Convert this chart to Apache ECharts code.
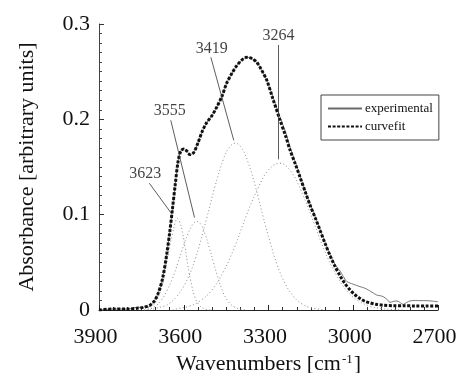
<!DOCTYPE html>
<html>
<head>
<meta charset="utf-8">
<script src="https://cdn.jsdelivr.net/npm/echarts@6/dist/echarts.min.js"></script>
<style>
  html, body { margin: 0; padding: 0; background: #fff; }
  #chart { width: 457px; height: 373px; }
</style>
</head>
<body>
<div id="chart"></div>
<script>
// band components
var band3623X = [3740, 3720, 3700, 3680, 3665, 3650, 3640, 3630, 3623, 3615, 3605, 3595, 3585, 3575, 3560, 3545, 3525, 3500];
var band3623Y = [0.0, 0.002, 0.008, 0.022, 0.042, 0.066, 0.080, 0.092, 0.096, 0.093, 0.082, 0.065, 0.046, 0.030, 0.013, 0.005, 0.001, 0.0];

var band3555X = [3740, 3720, 3700, 3680, 3660, 3640, 3620, 3600, 3585, 3570, 3555, 3540, 3525, 3510, 3495, 3480, 3460, 3440, 3420, 3400, 3380];
var band3555Y = [0.0, 0.001, 0.004, 0.010, 0.020, 0.033, 0.050, 0.068, 0.080, 0.089, 0.093, 0.090, 0.080, 0.066, 0.050, 0.035, 0.018, 0.008, 0.003, 0.001, 0.0];

var band3419X = [3720, 3700, 3650, 3600, 3560, 3520, 3490, 3460, 3440, 3418, 3395, 3370, 3345, 3320, 3295, 3270, 3240, 3210, 3180, 3150, 3100];
var band3419Y = [0.0, 0.0016, 0.007, 0.025, 0.053, 0.095, 0.129, 0.158, 0.170, 0.175, 0.170, 0.153, 0.128, 0.099, 0.072, 0.048, 0.027, 0.0136, 0.006, 0.0025, 0.0];

var band3264X = [3640, 3620, 3580, 3540, 3500, 3460, 3420, 3380, 3340, 3300, 3260, 3220, 3180, 3140, 3100, 3060, 3020, 2980, 2940, 2900, 2860, 2820];
var band3264Y = [0.0, 0.0015, 0.004, 0.010, 0.021, 0.040, 0.066, 0.098, 0.126, 0.147, 0.154, 0.145, 0.122, 0.092, 0.061, 0.037, 0.019, 0.0093, 0.0039, 0.0015, 0.0005, 0.0];

// fitted envelope
var fitX = [3900, 3850, 3800, 3760, 3740, 3720, 3705, 3690, 3675, 3660, 3650, 3640, 3630, 3620, 3610, 3600, 3590, 3578, 3565, 3550, 3535, 3520, 3500, 3483, 3465, 3448, 3430, 3413, 3395, 3377, 3360, 3342, 3325, 3306, 3285, 3259, 3240, 3224, 3205, 3188, 3170, 3153, 3135, 3118, 3100, 3082, 3065, 3047, 3030, 3011, 2994, 2976, 2958, 2941, 2920, 2894, 2860, 2820, 2780, 2740, 2700];
var fitY = [0.0, 0.001, 0.001, 0.002, 0.003, 0.005, 0.009, 0.018, 0.033, 0.059, 0.081, 0.106, 0.132, 0.156, 0.167, 0.169, 0.167, 0.163, 0.165, 0.175, 0.187, 0.196, 0.204, 0.213, 0.224, 0.238, 0.248, 0.256, 0.262, 0.265, 0.264, 0.260, 0.252, 0.241, 0.222, 0.199, 0.183, 0.168, 0.153, 0.139, 0.124, 0.110, 0.097, 0.084, 0.070, 0.057, 0.046, 0.036, 0.028, 0.021, 0.016, 0.012, 0.009, 0.0075, 0.006, 0.005, 0.0045, 0.0044, 0.0043, 0.0043, 0.0043];

// measured spectrum
var expX = [3900, 3850, 3800, 3760, 3745, 3735, 3725, 3715, 3705, 3690, 3675, 3660, 3650, 3640, 3630, 3620, 3610, 3600, 3590, 3578, 3565, 3550, 3535, 3520, 3500, 3483, 3465, 3448, 3430, 3413, 3395, 3377, 3360, 3342, 3325, 3306, 3285, 3259, 3240, 3224, 3205, 3188, 3170, 3153, 3135, 3118, 3100, 3082, 3065, 3047, 3035, 3023, 3000, 2976, 2960, 2947, 2930, 2917, 2905, 2894, 2880, 2870, 2858, 2846, 2835, 2823, 2810, 2799, 2780, 2764, 2740, 2717, 2700];
var expY = [0.0, 0.001, 0.001, 0.003, 0.002, 0.004, 0.003, 0.006, 0.009, 0.018, 0.033, 0.059, 0.081, 0.106, 0.132, 0.156, 0.167, 0.169, 0.167, 0.163, 0.165, 0.175, 0.187, 0.196, 0.204, 0.213, 0.224, 0.238, 0.248, 0.256, 0.262, 0.265, 0.264, 0.260, 0.252, 0.241, 0.224, 0.202, 0.187, 0.171, 0.155, 0.140, 0.125, 0.111, 0.098, 0.085, 0.071, 0.058, 0.048, 0.041, 0.035, 0.030, 0.027, 0.0245, 0.023, 0.021, 0.018, 0.0157, 0.015, 0.014, 0.011, 0.008, 0.009, 0.0095, 0.008, 0.006, 0.008, 0.0095, 0.010, 0.0098, 0.0098, 0.0092, 0.0087];

// peak labels: text, label anchor, leader line start and end
var peakNames = ['3623', '3555', '3419', '3264'];
var peakLabelAt = [[3736, 0.143], [3650, 0.209], [3501, 0.274], [3265, 0.288]];
var peakLineFrom = [[3722, 0.133], [3646, 0.199], [3504, 0.265], [3264, 0.278]];
var peakLineTo = [[3643, 0.101], [3562, 0.097], [3423, 0.178], [3264, 0.158]];

var xTicks = { min: 2700, max: 3900, step: 300 };
var yTicks = { min: 0, max: 0.3, step: 0.1 };

function pairs(xs, ys) {
  return xs.map(function (x, i) { return [x, ys[i]]; });
}

var serif = "'Liberation Serif', 'DejaVu Serif', serif";

function bandSeries(name, xs, ys) {
  return {
    name: name,
    type: "line",
    data: pairs(xs, ys),
    smooth: 0.4,
    symbol: "none",
    silent: true,
    color: "#8a8a8a",
    lineStyle: { color: "#8a8a8a", width: 1, type: [1, 2.5] },
    z: 2
  };
}

var chart = echarts.init(document.getElementById("chart"));
chart.setOption({
  animation: false,
  backgroundColor: "#fff",
  grid: { left: 99, right: 19, top: 24, bottom: 63, outerBoundsMode: "none", containLabel: false },
  legend: {
    data: ["experimental", "curvefit"],
    orient: "vertical",
    left: 321,
    top: 95,
    padding: [7, 6, 7, 6],
    itemGap: 5,
    itemWidth: 34,
    itemHeight: 13,
    itemStyle: { opacity: 0 },
    borderColor: "#444",
    borderWidth: 1,
    textStyle: { fontFamily: serif, fontSize: 13, color: "#111", padding: [0, 0, 0, -2] }
  },
  xAxis: {
    type: "value",
    inverse: true,
    min: xTicks.min,
    max: xTicks.max,
    interval: xTicks.step,
    name: "{t|Wavenumbers [cm}{s|-1}{t|]}",
    nameLocation: "middle",
    nameGap: 41,
    nameTextStyle: {
      rich: {
        t: { fontFamily: serif, fontSize: 22, color: "#111" },
        s: { fontFamily: serif, fontSize: 13, color: "#111", verticalAlign: "top", padding: [0, 1, 10, 1] }
      }
    },
    axisLine: { lineStyle: { color: "#222", width: 1 } },
    axisTick: { inside: true, length: 5, lineStyle: { color: "#222" } },
    minorTick: { show: true, splitNumber: 6, length: 3, lineStyle: { color: "#333" } },
    splitLine: { show: false },
    axisLabel: {
      fontFamily: serif, fontSize: 22, color: "#111", margin: 16,
      padding: [0, 7, 0, 0],
      formatter: function (v) { return String(v); }
    }
  },
  yAxis: {
    type: "value",
    min: yTicks.min,
    max: yTicks.max,
    interval: yTicks.step,
    name: "Absorbance [arbitrary units]",
    nameLocation: "middle",
    nameGap: 61,
    nameTextStyle: { fontFamily: serif, fontSize: 22, color: "#111" },
    axisLine: { show: true, lineStyle: { color: "#444", width: 1 } },
    axisTick: { inside: true, length: 5, lineStyle: { color: "#333" } },
    minorTick: { show: true, splitNumber: 10, length: 3, lineStyle: { color: "#444" } },
    splitLine: { show: false },
    axisLabel: {
      fontFamily: serif, fontSize: 22, color: "#111", margin: 9,
      formatter: function (v) { return v === 0 ? "0" : v.toFixed(1); }
    }
  },
  series: [
    bandSeries("b3623", band3623X, band3623Y),
    bandSeries("b3555", band3555X, band3555Y),
    bandSeries("b3419", band3419X, band3419Y),
    bandSeries("b3264", band3264X, band3264Y),
    {
      name: "experimental",
      type: "line",
      data: pairs(expX, expY),
      smooth: 0.3,
      symbol: "none",
      color: "#6a6a6a",
      lineStyle: { color: "#6a6a6a", width: 0.9 },
      z: 3
    },
    {
      name: "curvefit",
      type: "line",
      data: pairs(fitX, fitY),
      smooth: 0.3,
      symbol: "none",
      color: "#111",
      lineStyle: { color: "#111", width: 3, type: [3, 1.6] },
      z: 4
    },
    {
      name: "peaks",
      type: "scatter",
      symbolSize: 0,
      silent: true,
      data: peakNames.map(function (n, i) {
        return { name: n, value: peakLabelAt[i] };
      }),
      label: {
        show: true,
        position: "inside",
        formatter: "{b}",
        fontFamily: serif,
        fontSize: 16,
        color: "#111"
      },
      markLine: {
        silent: true,
        symbol: "none",
        label: { show: false },
        lineStyle: { color: "#333", width: 0.8, type: "solid" },
        data: peakNames.map(function (n, i) {
          return [{ coord: peakLineFrom[i] }, { coord: peakLineTo[i] }];
        })
      },
      z: 5
    }
  ]
});
</script>
</body>
</html>
